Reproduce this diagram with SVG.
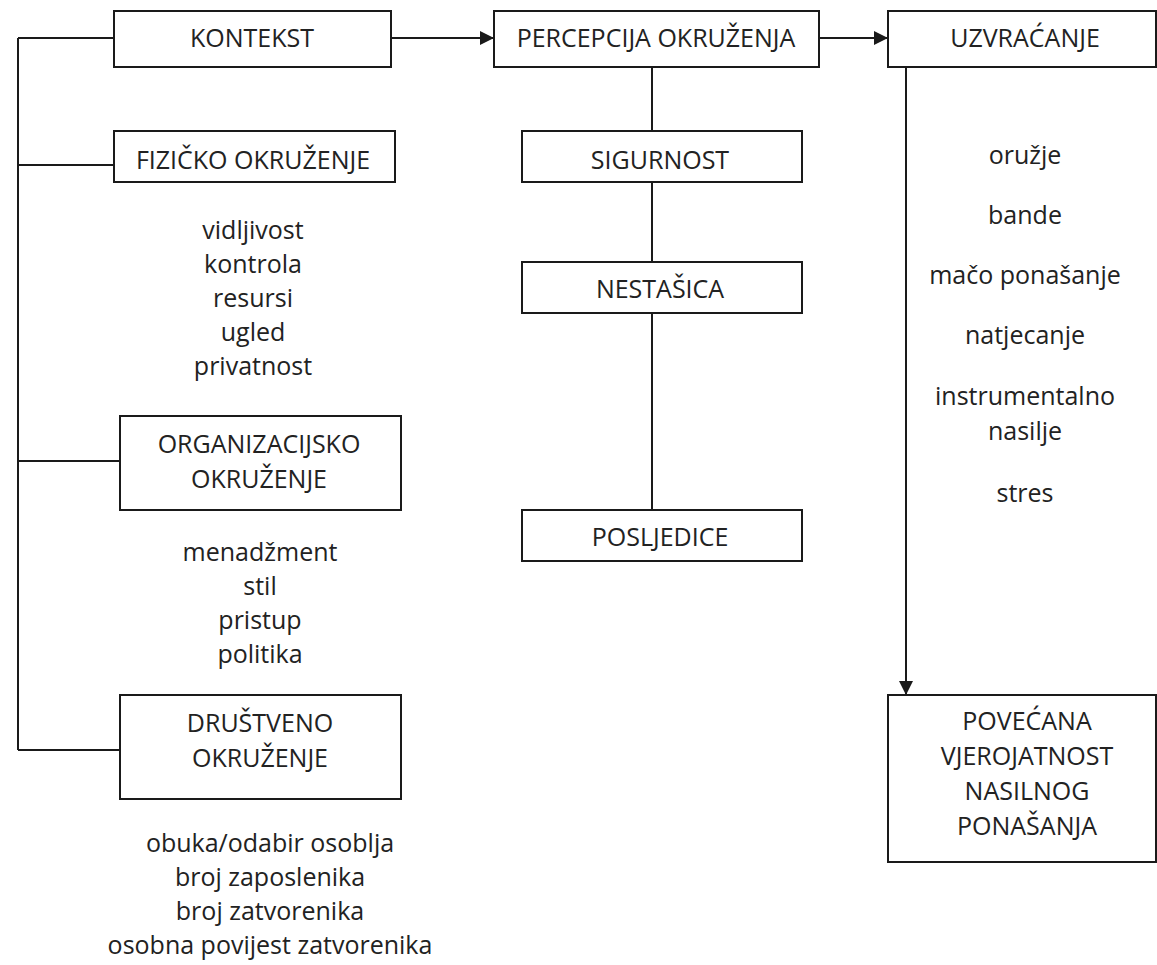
<svg xmlns="http://www.w3.org/2000/svg" width="1157" height="965" viewBox="0 0 1157 965">
<style>
.box{fill:#fff;stroke:#1a1a1a;stroke-width:2}
.ln{fill:none;stroke:#1a1a1a;stroke-width:2}
text{font-family:"Open Sans","Liberation Sans",sans-serif;font-size:25px;fill:#222;text-anchor:middle}
</style>
<defs>
<marker id="ah" viewBox="0 0 14 14" refX="14" refY="7" markerWidth="14" markerHeight="14" markerUnits="userSpaceOnUse" orient="auto">
<path d="M0,0 L14,7 L0,14 Z" fill="#1a1a1a"/>
</marker>
</defs>
<rect width="1157" height="965" fill="#fff"/>
<g id="connectors">
<path class="ln" d="M18,38 V750"/>
<path class="ln" d="M18,38 H114"/>
<path class="ln" d="M18,165 H114"/>
<path class="ln" d="M18,461 H120"/>
<path class="ln" d="M18,750 H120"/>
<path class="ln" d="M391,38 H494" marker-end="url(#ah)"/>
<path class="ln" d="M819,38 H888" marker-end="url(#ah)"/>
<path class="ln" d="M652,67 V131"/>
<path class="ln" d="M652,182 V262"/>
<path class="ln" d="M652,313 V510"/>
<path class="ln" d="M906,67 V695" marker-end="url(#ah)"/>
</g>
<g id="kontekst"><rect class="box" x="114" y="11" width="277" height="56"/><text x="252" y="47">KONTEKST</text></g>
<g id="percepcija"><rect class="box" x="494" y="11" width="325" height="56"/><text x="656" y="47">PERCEPCIJA OKRUŽENJA</text></g>
<g id="uzvracanje"><rect class="box" x="888" y="11" width="268" height="56"/><text x="1025" y="47">UZVRAĆANJE</text></g>
<g id="fizicko"><rect class="box" x="114" y="131" width="281" height="51"/><text x="253" y="169">FIZIČKO OKRUŽENJE</text></g>
<g id="fizicko-list">
<text x="253" y="239">vidljivost</text>
<text x="253" y="273">kontrola</text>
<text x="253" y="307">resursi</text>
<text x="253" y="341">ugled</text>
<text x="253" y="375">privatnost</text>
</g>
<g id="organizacijsko"><rect class="box" x="120" y="416" width="281" height="94"/><text x="259" y="453">ORGANIZACIJSKO</text><text x="259" y="488">OKRUŽENJE</text></g>
<g id="organizacijsko-list">
<text x="260" y="561">menadžment</text>
<text x="260" y="595">stil</text>
<text x="260" y="629">pristup</text>
<text x="260" y="663">politika</text>
</g>
<g id="drustveno"><rect class="box" x="120" y="695" width="281" height="104"/><text x="260" y="732">DRUŠTVENO</text><text x="260" y="767">OKRUŽENJE</text></g>
<g id="drustveno-list">
<text x="270" y="852">obuka/odabir osoblja</text>
<text x="270" y="886">broj zaposlenika</text>
<text x="270" y="920">broj zatvorenika</text>
<text x="270" y="954">osobna povijest zatvorenika</text>
</g>
<g id="sigurnost"><rect class="box" x="522" y="131" width="280" height="51"/><text x="660" y="169">SIGURNOST</text></g>
<g id="nestasica"><rect class="box" x="522" y="262" width="280" height="51"/><text x="660" y="298">NESTAŠICA</text></g>
<g id="posljedice"><rect class="box" x="522" y="510" width="280" height="51"/><text x="660" y="546">POSLJEDICE</text></g>
<g id="uzvracanje-list">
<text x="1025" y="164">oružje</text>
<text x="1025" y="224">bande</text>
<text x="1025" y="284">mačo ponašanje</text>
<text x="1025" y="344">natjecanje</text>
<text x="1025" y="405">instrumentalno</text>
<text x="1025" y="440">nasilje</text>
<text x="1025" y="502">stres</text>
</g>
<g id="povecana"><rect class="box" x="888" y="695" width="268" height="167"/>
<text x="1027" y="730">POVEĆANA</text>
<text x="1027" y="765">VJEROJATNOST</text>
<text x="1027" y="800">NASILNOG</text>
<text x="1027" y="835">PONAŠANJA</text>
</g>
</svg>
